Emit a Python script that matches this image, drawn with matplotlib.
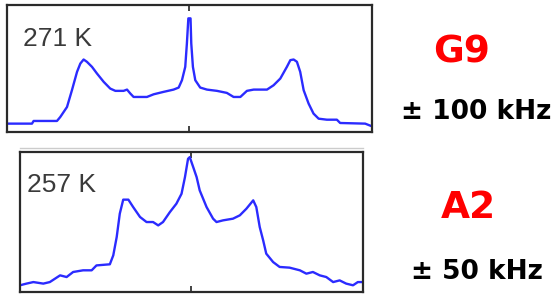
import matplotlib
matplotlib.use("Agg")
import matplotlib.pyplot as plt
from matplotlib.lines import Line2D

# G9 spectrum at 271 K, frequency offset in kHz vs normalised intensity
freq_g9 = [-100, -86.3, -85.4, -72.6, -70.8, -67.1, -64.4, -61.6, -59.8, -58.0,
           -56.2, -53.4, -50.7, -47.0, -43.4, -40.6, -36.1, -34.2, -32.4, -30.6,
           -23.3, -19.6, -14.2, -8.7, -5.9, -4.1, -2.3, -1.4, -0.6, 0.6,
           1.0, 1.9, 3.2, 5.9, 9.6, 15.1, 20.5, 24.2, 27.9, 31.5,
           35.2, 42.5, 46.1, 49.8, 53.4, 55.3, 57.1, 58.9, 60.7, 62.6,
           65.3, 68.0, 70.8, 75.3, 80.8, 82.6, 96.3, 100]
int_g9 = [0.066, 0.066, 0.087, 0.087, 0.118, 0.197, 0.329, 0.474, 0.539, 0.571,
          0.553, 0.513, 0.461, 0.395, 0.342, 0.324, 0.324, 0.334, 0.303, 0.276,
          0.276, 0.297, 0.316, 0.334, 0.350, 0.408, 0.513, 0.697, 0.895, 0.895,
          0.697, 0.513, 0.408, 0.350, 0.334, 0.324, 0.308, 0.276, 0.276, 0.324,
          0.334, 0.334, 0.368, 0.421, 0.513, 0.566, 0.571, 0.553, 0.474, 0.329,
          0.224, 0.145, 0.105, 0.097, 0.097, 0.071, 0.066, 0.045]

# A2 spectrum at 257 K
freq_a2 = [-50, -48.1, -46.1, -43.2, -41.3, -38.3, -36.4, -34.5, -31.6, -29.1,
           -27.7, -23.8, -22.8, -21.8, -20.9, -19.9, -18.4, -17.0, -15.0, -13.1,
           -11.2, -9.7, -8.3, -6.3, -4.4, -2.9, -1.9, -1.0, -0.5, 0.5,
           1.5, 2.4, 4.4, 6.3, 7.3, 9.2, 12.1, 14.1, 16.0, 18.0,
           18.9, 19.9, 20.9, 21.8, 23.8, 25.7, 28.6, 31.6, 33.5, 35.4,
           37.4, 39.3, 41.3, 43.2, 45.1, 47.1, 48.5, 50.0]
int_a2 = [0.048, 0.060, 0.071, 0.060, 0.071, 0.119, 0.107, 0.143, 0.155, 0.155,
          0.190, 0.198, 0.262, 0.393, 0.560, 0.660, 0.660, 0.607, 0.536, 0.500,
          0.500, 0.476, 0.500, 0.571, 0.631, 0.702, 0.821, 0.952, 0.964, 0.893,
          0.821, 0.726, 0.607, 0.524, 0.500, 0.512, 0.524, 0.548, 0.595, 0.655,
          0.607, 0.464, 0.369, 0.274, 0.214, 0.179, 0.174, 0.155, 0.131, 0.143,
          0.119, 0.107, 0.071, 0.083, 0.060, 0.048, 0.071, 0.071]

temps = ["271 K", "257 K"]
samples = ["G9", "A2"]
ranges = ["\u00b1 100 kHz", "\u00b1 50 kHz"]

BLUE = "#2b2bff"

fig = plt.figure(figsize=(5.58, 2.99), dpi=100, facecolor="w")
ax1 = fig.add_axes([0.0125, 0.5585, 0.654, 0.4247])
ax2 = fig.add_axes([0.0358, 0.0234, 0.6147, 0.468])

panels = [(ax1, freq_g9, int_g9, 100, 0.044, 0.73),
          (ax2, freq_a2, int_a2, 50, 0.02, 0.764)]
for i, (ax, x, y, lim, tx, ty) in enumerate(panels):
    ax.plot(x, y, color=BLUE, lw=1.7)
    ax.set_xlim(-lim, lim)
    ax.set_ylim(0, 1)
    ax.set_xticks([0])
    ax.set_xticklabels([])
    ax.set_yticks([])
    ax.tick_params(axis="x", direction="in", top=True, bottom=True,
                   length=4, width=1.2, color="#222222")
    for s in ax.spines.values():
        s.set_linewidth(1.6)
        s.set_color("#2a2a2a")
    ax.text(tx, ty, temps[i], transform=ax.transAxes, ha="left", va="center",
            fontsize=19, family="Liberation Sans", color="#3a3a3a")

# faint shadow line above the lower panel
fig.add_artist(Line2D([0.036, 0.65], [0.505, 0.505], color="#cccccc", lw=1))

fig.text(0.828, 0.826, samples[0], ha="center", va="center", fontsize=27,
         fontweight="bold", color="#ff0000", family="DejaVu Sans")
fig.text(0.853, 0.625, ranges[0], ha="center", va="center", fontsize=19,
         fontweight="bold", color="black", family="DejaVu Sans")
fig.text(0.839, 0.304, samples[1], ha="center", va="center", fontsize=27,
         fontweight="bold", color="#ff0000", family="DejaVu Sans")
fig.text(0.855, 0.090, ranges[1], ha="center", va="center", fontsize=19,
         fontweight="bold", color="black", family="DejaVu Sans")

fig.savefig("out.png", dpi=100, facecolor="w")
plt.close()
